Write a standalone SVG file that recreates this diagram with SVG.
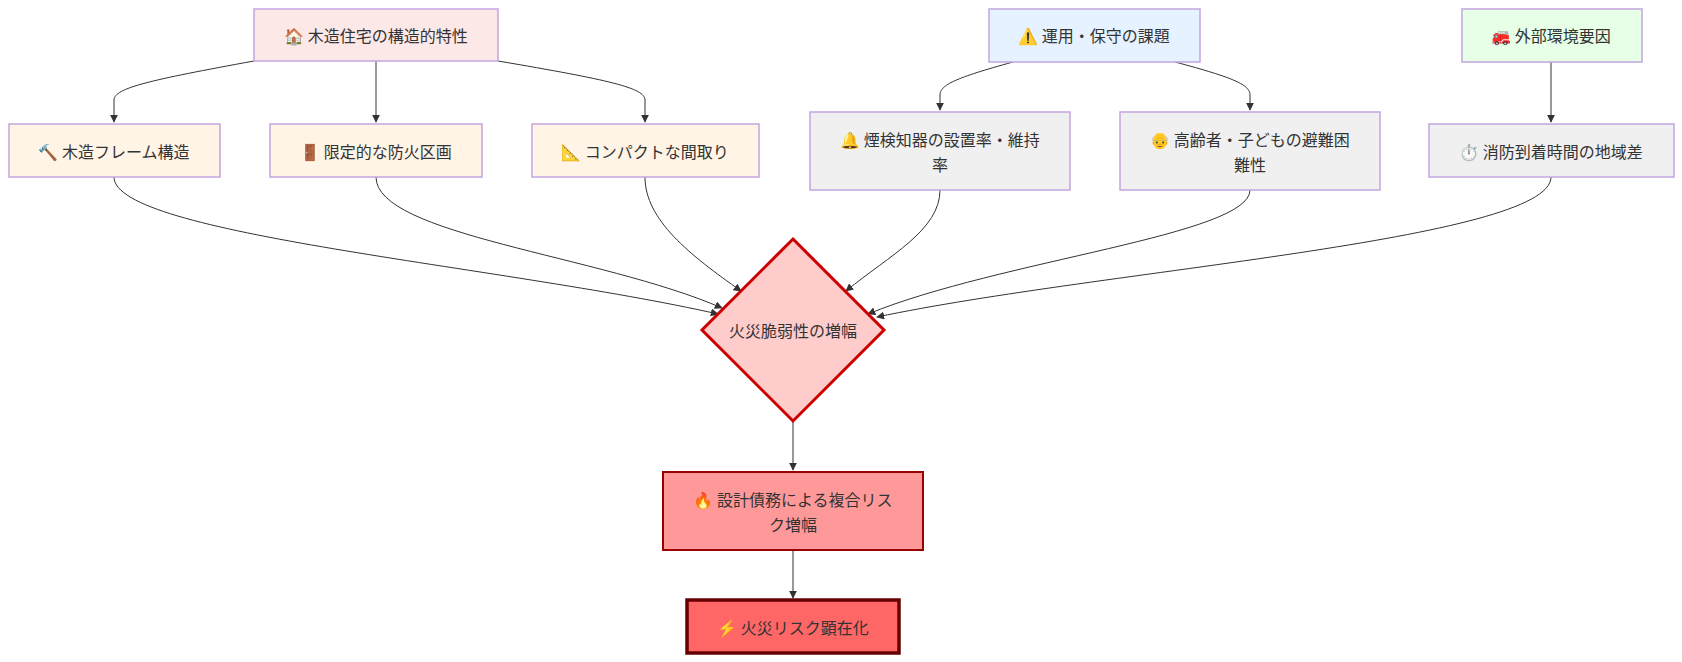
<svg xmlns="http://www.w3.org/2000/svg" width="1682" height="662" viewBox="0 0 1682 662">
<defs>
<marker id="ah" viewBox="0 0 10 10" refX="9" refY="5" markerWidth="8" markerHeight="8" orient="auto"><path d="M0,0L10,5L0,10z" fill="#333"/></marker>
<style>
text{font-family:"Noto Sans CJK JP","Liberation Sans",sans-serif;font-size:16px;fill:#333;text-anchor:middle;dominant-baseline:central}
.n{stroke:#c3a6e0;stroke-width:1.5}
.e{fill:none;stroke:#333;stroke-width:1;marker-end:url(#ah)}
</style>
</defs>
<rect width="1682" height="662" fill="#fff"/>
<g id="edges">
<path class="e" d="M254,61 C150,80 114,88 114,100 L114,122"/>
<path class="e" d="M376,61 L376,122"/>
<path class="e" d="M498,61 C610,80 645,88 645,100 L645,122"/>
<path class="e" d="M1013,62 C955,78 940,85 940,95 L940,110"/>
<path class="e" d="M1175,62 C1235,78 1250,85 1250,95 L1250,110"/>
<path class="e" d="M1551,62 L1551,122"/>
<path class="e" d="M114,177 C114,235 500,265 718,314"/>
<path class="e" d="M376,177 C376,235 600,255 722,308"/>
<path class="e" d="M645,177 C645,220 690,255 741,291"/>
<path class="e" d="M940,190 C940,230 890,255 846,291"/>
<path class="e" d="M1250,190 C1250,235 1000,260 868,314"/>
<path class="e" d="M1551,177 C1551,240 1100,270 877,317"/>
<path class="e" d="M793,422 L793,470"/>
<path class="e" d="M793,550 L793,598"/>
</g>
<g id="n1"><rect class="n" x="254" y="9" width="244" height="52" fill="#fde8e8"/><text x="376" y="35">🏠 木造住宅の構造的特性</text></g>
<g id="n2"><rect class="n" x="989" y="9" width="211" height="53" fill="#e6f2ff"/><text x="1094" y="35">⚠️ 運用・保守の課題</text></g>
<g id="n3"><rect class="n" x="1462" y="9" width="180" height="53" fill="#e6ffe6"/><text x="1551" y="35">🚒 外部環境要因</text></g>
<g id="n4"><rect class="n" x="9" y="124" width="211" height="53" fill="#fff4e6"/><text x="114" y="151">🔨 木造フレーム構造</text></g>
<g id="n5"><rect class="n" x="270" y="124" width="212" height="53" fill="#fff4e6"/><text x="376" y="151">🚪 限定的な防火区画</text></g>
<g id="n6"><rect class="n" x="532" y="124" width="227" height="53" fill="#fff4e6"/><text x="645" y="151">📐 コンパクトな間取り</text></g>
<g id="n7"><rect class="n" x="810" y="112" width="260" height="78" fill="#f0f0f0"/><text x="940" y="139">🔔 煙検知器の設置率・維持</text><text x="940" y="164">率</text></g>
<g id="n8"><rect class="n" x="1120" y="112" width="260" height="78" fill="#f0f0f0"/><text x="1250" y="139">👴 高齢者・子どもの避難困</text><text x="1250" y="164">難性</text></g>
<g id="n9"><rect class="n" x="1429" y="124" width="245" height="53" fill="#f0f0f0"/><text x="1551" y="151">⏱️ 消防到着時間の地域差</text></g>
<g id="n10"><path d="M793,239 L884,330 L793,421 L702,330 Z" fill="#ffcccc" stroke="#cc0000" stroke-width="3"/><text x="793" y="330">火災脆弱性の増幅</text></g>
<g id="n11"><rect x="663" y="472" width="260" height="78" fill="#ff9999" stroke="#990000" stroke-width="2"/><text x="793" y="499">🔥 設計債務による複合リス</text><text x="793" y="524">ク増幅</text></g>
<g id="n12"><rect x="687" y="600" width="212" height="53" fill="#ff6666" stroke="#660000" stroke-width="3.5"/><text x="793" y="627">⚡ 火災リスク顕在化</text></g>
</svg>
